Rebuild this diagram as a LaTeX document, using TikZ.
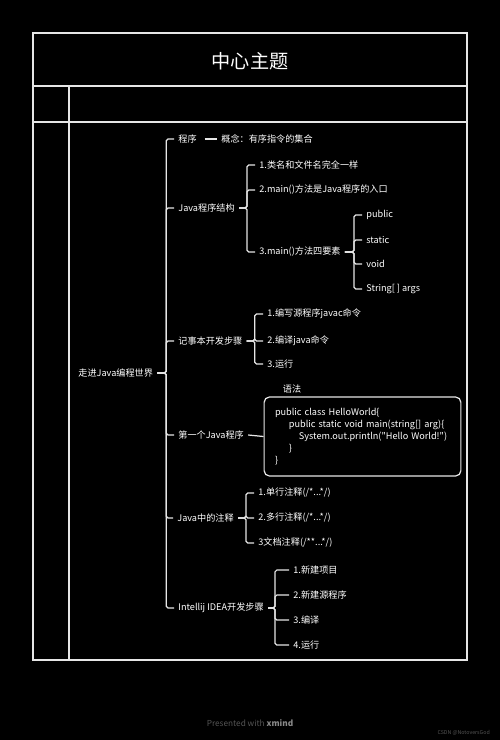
\documentclass[tikz,border=0pt]{standalone}
\usepackage{fontspec}
\setmainfont{Noto Sans CJK SC}
\newfontfamily\cjkfont{Noto Sans CJK SC}
\usetikzlibrary{positioning}
\definecolor{linegray}{HTML}{E6E6E6}
\definecolor{footgray}{HTML}{555555}
\definecolor{markgray}{HTML}{8A8A8A}

\begin{document}
\begin{tikzpicture}[x=0.02cm,y=-0.02cm,
  every node/.style={text=white,font=\cjkfont\fontsize{5.2}{6.8}\selectfont},
  topic/.style={anchor=west,inner xsep=2.3pt,inner ysep=1pt},
  branch/.style={draw=linegray,line width=0.7pt,rounded corners=1pt},
  frame/.style={draw=linegray,line width=0.9pt},
  codebox/.style={draw=linegray,line width=0.7pt,rounded corners=3pt,minimum width=3.9cm,minimum height=1.58cm,text width=3.5cm,inner xsep=6.2pt,align=left}]
\fill[black] (0,0) rectangle (500,740);
\useasboundingbox (0,0) rectangle (500,740);
% frame
\draw[frame] (33,33) rectangle (467,660);
\draw[frame] (33,86) -- (467,86);
\draw[frame] (33,122) -- (467,122);
\draw[frame] (69,86) -- (69,660);
\node[font=\cjkfont\fontsize{10.9}{13}\selectfont] (title) at (250,61) {中心主题};

% topics
\node[topic] (root) at (74,373) {走进Java编程世界};
\node[topic] (prog) at (174,139) {程序};
\node[topic] (concept) at (217,139) {概念：有序指令的集合};
\node[topic] (struct) at (174,208) {Java程序结构};
\node[topic] (rule1) at (255,165) {1.类名和文件名完全一样};
\node[topic] (rule2) at (255,190) {2.main()方法是Java程序的入口};
\node[topic] (rule3) at (255,252) {3.main()方法四要素};
\node[topic] (kwpub) at (362,215) {public};
\node[topic] (kwstat) at (362,240) {static};
\node[topic] (kwvoid) at (362,264) {void};
\node[topic] (kwargs) at (362,289) {String[ ] args};
\node[topic] (notepad) at (174,341) {记事本开发步骤};
\node[topic] (np1) at (263,314) {1.编写源程序javac命令};
\node[topic] (np2) at (263,341) {2.编译java命令};
\node[topic] (np3) at (263,364) {3.运行};
\node[topic] (first) at (174,435) {第一个Java程序};
\node (syntax) at (292,389) {语法};
\node[codebox] (code) at (362.5,436.5) {public class HelloWorld\{\\
\hspace*{7.9pt}public static void main(string[] arg)\{\\
\hspace*{13.6pt}System.out.println("Hello World!")\\
\hspace*{7.9pt}\}\\
\}};
\node[topic] (comm) at (173,518) {Java中的注释};
\node[topic] (cm1) at (254,493) {1.单行注释(/*...*/)};
\node[topic] (cm2) at (254,518) {2.多行注释(/*...*/)};
\node[topic] (cm3) at (254,543) {3文档注释(/**...*/)};
\node[topic] (idea) at (174,608) {Intellij IDEA开发步骤};
\node[topic] (id1) at (289,570) {1.新建项目};
\node[topic] (id2) at (289,595) {2.新建源程序};
\node[topic] (id3) at (289,620) {3.编译};
\node[topic] (id4) at (289,645) {4.运行};

% branches
\foreach \c in {prog,struct,notepad,first,comm,idea}
  \draw[branch] (root.east) -- ++(9,0) |- (\c.west);
\draw[branch,shorten <=2pt] (prog.east) -- (concept.west);
\foreach \c in {rule1,rule2,rule3}
  \draw[branch] (struct.east) -- ++(8,0) |- (\c.west);
\foreach \c in {kwpub,kwstat,kwvoid,kwargs}
  \draw[branch] (rule3.east) -- ++(9,0) |- (\c.west);
\foreach \c in {np1,np2,np3}
  \draw[branch] (notepad.east) -- ++(8,0) |- (\c.west);
\draw[branch] (first.east) -- (code.west);
\foreach \c in {cm1,cm2,cm3}
  \draw[branch] (comm.east) -- ++(8,0) |- (\c.west);
\foreach \c in {id1,id2,id3,id4}
  \draw[branch] (idea.east) -- ++(7,0) |- (\c.west);

% footer
\node[text=footgray,font=\cjkfont\fontsize{4.7}{6}\selectfont] (footer) at (250,723) {Presented with \textcolor{markgray}{\textbf{xmind}}};
\node[text=footgray,font=\cjkfont\fontsize{3}{4}\selectfont,anchor=east] (mark) at (496,733) {CSDN @NotoversGod};
\end{tikzpicture}
\end{document}
